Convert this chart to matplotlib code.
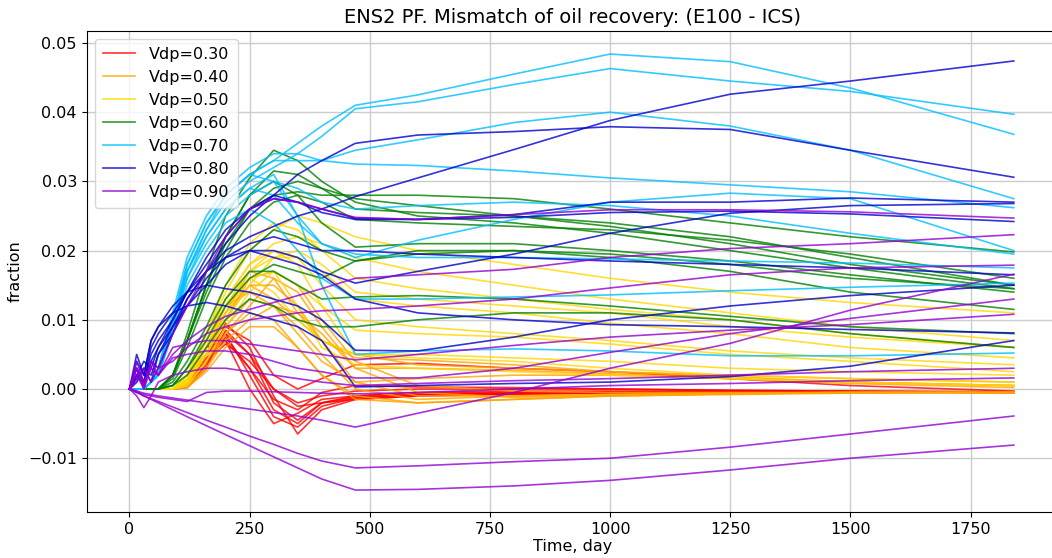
import numpy as np
import matplotlib
matplotlib.use('Agg')
import matplotlib.pyplot as plt

# time grid (days) shared by all runs
time_days = [0, 15, 30, 45, 60, 90, 120, 160, 200, 250, 300, 350, 400, 470,
             600, 800, 1000, 1250, 1500, 1840]

# mismatch values, in units of 1e-3 (fraction)
vdp_030 = [
    [0, 0, 0, 0, 0, 0, 0.5, 4, 7.5, 3, -3, -5, -2, -1.2, -0.8, -0.6, -0.5, -0.4, -0.4, -0.4],
    [0, 0, 0, 0, 0, 0, 0.3, 3, 9.5, 6, -1, -6.5, -3, -1.5, -1, -0.7, -0.5, -0.4, -0.4, -0.4],
    [0, 0, 0, 0, 0, 0, 0.8, 5, 8, 2, -4, -5.5, -2.5, -1.3, -0.8, -0.6, -0.5, -0.4, -0.4, -0.5],
    [0, 0, 0, 0, 0, 0, 1, 6, 7, 0, -5, -3.5, -1.5, -1, -0.6, -0.5, -0.4, -0.4, -0.4, -0.5],
    [0, 0, 0, 0, 0, 0, 0.5, 4, 6.5, 4, 0, -2, -1, -0.3, 0, 0, 0, -0.2, -0.3, -0.5],
    [0, 0, 0, 0, 0, 0, 0.2, 3, 8.5, 5, -2, -4.5, -2, -1, -0.5, -0.3, -0.3, -0.3, -0.4, -0.5],
    [0, 0, 0, 0, 0, 0, 1, 5, 9, 7, 2, 0, 1.5, 3.5, 3.7, 3, 2.5, 1.5, 0.5, -0.3],
    [0, 0, 0, 0, 0, 0, 0.6, 4.5, 7, 3, -1.5, -3, -0.5, 0.5, 0.3, 0.2, 0, -0.2, -0.3, -0.4],
    [0, 0, 0, 0, 0, 0, 0.4, 3.5, 8, 5, 0, -2.5, -2, -1.5, -1, -0.8, -0.6, -0.5, -0.4, -0.4],
]
vdp_040 = [
    [0, 0, 0, 0, 0, 0, 0.5, 4, 9, 13, 12, 9, 5, 0, -1.5, -1, -0.8, -0.6, -0.5, -0.5],
    [0, 0, 0, 0, 0, 0, 1, 5, 10, 15, 15, 12, 7, 1, -1, -1, -0.8, -0.6, -0.5, -0.5],
    [0, 0, 0, 0, 0, 0, 0.3, 3, 8, 12, 16, 14, 9, 3, -0.5, -1.2, -1, -0.7, -0.5, -0.5],
    [0, 0, 0, 0, 0, 0, 0.8, 5, 11, 17, 16, 11, 7, 4.5, 4.2, 3.5, 2.5, 1.8, 1, 0.5],
    [0, 0, 0, 0, 0, 0, 0.5, 4, 8, 11, 10, 6, 2, -1.5, -2, -1.5, -1, -0.7, -0.5, -0.5],
    [0, 0, 0, 0, 0, 0, 0.6, 6, 12, 14, 12, 8, 4, 1, 1.5, 2, 2, 1.5, 1, 0.5],
    [0, 0, 0, 0, 0, 0, 0.4, 3, 7, 10, 12, 11, 8, 3, 3, 2.7, 2.2, 1.5, 0.8, 0.2],
    [0, 0, 0, 0, 0, 0, 0.7, 5, 10, 16, 17, 15, 10, 4, 0.5, -0.3, -0.5, -0.5, -0.5, -0.5],
    [0, 0, 0, 0, 0, 0, 0.2, 2.5, 6, 9, 9, 6, 2, -1, -2, -1.5, -1, -0.8, -0.6, -0.5],
    [0, 0, 0, 0, 0, 0, 1, 6, 11, 15, 13, 10, 7, 5, 3.5, 3, 2.5, 2, 1.5, 1],
]
vdp_050 = [
    [0, 0, 0, 0, 0, 0, 2, 8, 14, 20, 23, 25, 24, 22, 20, 18, 16, 14, 12.5, 11],
    [0, 0, 0, 0, 0, 0, 1.5, 7, 13, 18, 21, 22, 21, 19, 17, 15, 13, 11, 9, 7],
    [0, 0, 0, 0, 0, 0, 1, 5, 10, 15, 19, 20, 18, 14, 13, 12, 11, 9, 7.5, 6],
    [0, 0, 0, 0, 0, 0, 1, 6, 12, 17, 20, 19, 15, 10, 9, 8, 7, 5.5, 4.5, 3.5],
    [0, 0, 0, 0, 0, 0, 0.5, 4, 9, 14, 17, 15, 12, 8.5, 8, 7.5, 6.5, 5, 4, 2.5],
    [0, 0, 0, 0, 0, 0, 1.5, 7, 13, 18, 20, 18, 12, 5, 4.5, 4, 3, 2, 1.5, 1],
    [0, 0, 0, 0, 0, 0, 1, 5, 11, 16, 17, 12, 6, 3.5, 3, 2.5, 2, 1.5, 1, 0.5],
    [0, 0, 0, 0, 0, 0, 2, 8, 15, 21, 24, 23, 20, 16, 14.5, 13, 11.5, 10, 8, 6],
    [0, 0, 0, 0, 0, 0, 0.8, 6, 12, 16, 14, 10, 7, 5, 5, 4.5, 4, 3, 2.5, 2],
    [0, 0, 0, 0, 0, 0, 1.2, 6, 12, 17, 19, 19, 17, 13, 12, 11, 9.5, 8, 6, 4.5],
]
vdp_060 = [
    [0, 0, 0, 0, 0, 2, 8, 17, 25, 30.5, 34.5, 33, 30, 27, 25, 24, 22.5, 20, 17.5, 14.5],
    [0, 0, 0, 0, 0, 2, 7, 15, 22, 28, 31.5, 31, 29, 26, 25.5, 25, 24, 22, 19, 15],
    [0, 0, 0, 0, 0, 1.5, 6, 13, 19, 24, 27, 28, 27, 24.5, 24, 23.5, 23, 21.5, 19.5, 16],
    [0, 0, 0, 0, 0, 1, 4, 9, 15, 20, 23, 22, 20, 18.5, 19.5, 20, 19.5, 18, 16, 14.5],
    [0, 0, 0, 0, 0, 2, 7, 15, 21, 26, 28, 28.5, 28, 28, 28, 27.5, 26, 24, 22, 19.8],
    [0, 0, 0, 0, 0, 0.5, 3, 7, 12, 16, 18, 17, 16, 18.5, 20, 20, 19, 17, 14, 11.5],
    [0, 0, 0, 0, 0, 0.5, 3, 8, 13, 17, 17, 15, 13, 13.3, 13.5, 13, 12, 10.5, 9, 8],
    [0, 0, 0, 0, 0, 0.5, 2, 6, 10, 13, 12, 10, 9, 9, 10, 11, 11, 10, 8, 6],
    [0, 0, 0, 0, 0, 2, 7, 14, 20, 26, 29, 30, 29, 27.5, 26.5, 25, 23.5, 21, 18, 15],
    [0, 0, 0, 0, 0, 2, 7, 15, 22, 28, 30, 28, 24, 20.5, 21, 21, 20, 18.5, 16.5, 14],
]
vdp_070 = [
    [0, 0, 0, 1, 3, 10, 18, 24, 28, 31, 33, 35.5, 38, 41, 42.5, 45.5, 48.4, 47.3, 43.5, 36.8],
    [0, 0, 0, 1, 2, 9, 17, 23, 27, 30, 32, 34, 36.5, 40.5, 41.5, 44, 46.3, 44.5, 43, 39.7],
    [0, 0, 0, 1, 3, 11, 19, 25, 29, 32, 34, 34, 33, 34.5, 36, 38.5, 40, 38, 34.5, 27.5],
    [0, 0, 0, 1, 2, 9, 17, 23, 28, 31, 33, 33, 33, 32.5, 32.3, 31.5, 30.5, 29.5, 28.5, 26.2],
    [0, 0, 0, 1, 2, 9, 16, 22, 26, 29, 28, 24, 21, 19, 21.5, 24.5, 27, 28.3, 27.5, 20],
    [0, 0, 0, 1, 3, 10, 18, 24, 28, 31, 30, 25, 21, 19.5, 19, 19, 18.8, 18.5, 18.2, 17.5],
    [0, 0, 0, 1, 2, 8, 15, 20, 24, 26, 24, 20, 16, 13, 13, 13.3, 13.6, 14.2, 14.7, 15.3],
    [0, 0, 0, 1, 3, 10, 17, 22, 26, 29, 31, 25, 15, 5, 5.5, 5.8, 5.5, 4.8, 4.8, 5.2],
    [0, 0, 0, 1, 2, 9, 16, 21, 25, 28, 30, 29, 27, 26, 26.5, 27, 26.5, 25, 22.5, 19.5],
]
vdp_080 = [
    [0, 2, 0.5, 4, 3, 8, 13, 17, 20, 22, 23.5, 25, 26, 27.8, 30.5, 34.6, 38.8, 42.6, 44.5, 47.4],
    [0, 1, 3, 2, 5, 9, 13, 17, 21, 25, 28, 31, 33, 35.5, 36.7, 37.2, 37.9, 37.5, 34.5, 30.6],
    [0, 2, 1, 4, 6, 10, 14, 19, 23, 26, 27.5, 27, 25.5, 24.5, 24.5, 25.2, 27, 27, 27.6, 27],
    [0, 3, 1, 5, 7, 10, 14, 18, 22, 26, 28, 27, 26, 24.7, 24.5, 24.8, 25.5, 25.7, 25.3, 24.2],
    [0, 1.5, 3, 1, 5, 8, 12, 15, 18, 20, 20, 19, 17, 15.3, 17, 19.5, 22.5, 25.4, 26.5, 26.8],
    [0, 3, 1, 6, 8, 11, 14, 17, 19, 20, 19, 18, 16.5, 13, 11, 10, 9.3, 9, 8.6, 8.1],
    [0, 4, 2, 7, 9, 12, 14, 15, 14.5, 14, 13, 12, 10, 5.6, 5.5, 7.5, 10, 12, 13.5, 15],
    [0, 5, 2, 7, 9, 11, 12, 12.5, 12, 11, 10, 9, 7, 0.3, 0.5, 0.8, 1, 1.8, 3.3, 7],
    [0, 2, 4, 3, 6, 9, 12, 16, 19, 21, 22, 21, 20, 20, 19.5, 19, 18.5, 18, 17.5, 16.5],
]
vdp_090 = [
    [0, -0.5, -1, -1.5, -2, -3, -4, -5.3, -6.6, -8.2, -9.8, -11.4, -13, -14.6, -14.5, -14, -13.2, -11.7, -10, -8.1],
    [0, -0.3, -1, -1.4, -1.8, -2.6, -3.4, -4.5, -5.5, -6.8, -8, -9.3, -10.4, -11.4, -11.1, -10.5, -10, -8.4, -6.5, -3.9],
    [0, -0.3, -0.6, -0.8, -1, -1.3, -1.6, -2, -2.4, -2.9, -3.4, -3.9, -4.5, -5.5, -3.5, -0.5, 3, 6.6, 11.4, 16.6],
    [0, 3, 0.5, 4, 3, 8, 12, 17, 22, 26, 27.5, 27, 26, 24.8, 24.5, 25.2, 25.9, 25.9, 25.6, 24.7],
    [0, 2, 0, 3, 2, 5, 7, 9, 10.5, 11.5, 12.5, 13.5, 14.5, 16, 16.5, 17.3, 19, 20.3, 21, 22.3],
    [0, 1, 3, 1, 3, 4, 6, 8, 9, 10, 10.5, 11, 11.3, 11.5, 12, 13, 14.6, 16.5, 17.5, 17.9],
    [0, 4, 1, 3, 2, 4.5, 5, 5.5, 5.5, 5, 4, 3, 2.5, 1.6, 1.6, 3, 5.3, 8, 10.2, 13],
    [0, 3, 0, 4, 2, 6, 6.5, 7, 7, 6.5, 6, 5.5, 5, 4.2, 5, 6.3, 7.5, 8.5, 9.3, 10.8],
    [0, -1, -2.7, -1, 1, 2, 2.5, 3, 3, 2.5, 2, 1.5, 1, 0.5, 0.8, 1.2, 1.5, 2, 2.5, 3],
    [0, -0.5, -0.8, -1, -1.2, -1.5, -1.8, -0.5, -0.3, -0.3, -0.4, -0.5, -0.6, -0.7, -0.5, 0, 0.5, 0.8, 1.2, 1.6],
]

groups = [vdp_030, vdp_040, vdp_050, vdp_060, vdp_070, vdp_080, vdp_090]
labels = ['Vdp=0.30', 'Vdp=0.40', 'Vdp=0.50', 'Vdp=0.60',
          'Vdp=0.70', 'Vdp=0.80', 'Vdp=0.90']
colors = ['red', 'orange', 'gold', 'green', 'deepskyblue', 'mediumblue', 'darkviolet']

fig = plt.figure(figsize=(10.52, 5.58), dpi=100)
ax = fig.add_axes([86.7 / 1052, 46 / 558, (1058 - 86.7) / 1052, 481 / 558])

t = np.array(time_days)
for runs, lab, col in zip(groups, labels, colors):
    for i, run in enumerate(runs):
        ax.plot(t, np.array(run) / 1000.0, color=col, lw=1.2, alpha=0.8,
                label=lab if i == 0 else None)

ax.set_xlim(-89, 1932)
ax.set_ylim(-0.01777, 0.05173)
ax.set_xticks([0, 250, 500, 750, 1000, 1250, 1500, 1750])
ax.set_yticks([-0.01, 0.0, 0.01, 0.02, 0.03, 0.04, 0.05])
ax.set_yticklabels(['−0.01', '0.00', '0.01', '0.02', '0.03', '0.04', '0.05'])
ax.tick_params(labelsize=11.5)
ax.grid(True, color='#cccccc', lw=1)
ax.spines['right'].set_visible(False)

ax.set_title('ENS2 PF. Mismatch of oil recovery: (E100 - ICS)', fontsize=14)
ax.set_xlabel('Time, day', fontsize=11.5, labelpad=2)
ax.set_ylabel('fraction', fontsize=11.5)
ax.legend(loc='upper left', fontsize=11.5, borderpad=0.5, handletextpad=0.9)

fig.savefig('out.png', dpi=100)
